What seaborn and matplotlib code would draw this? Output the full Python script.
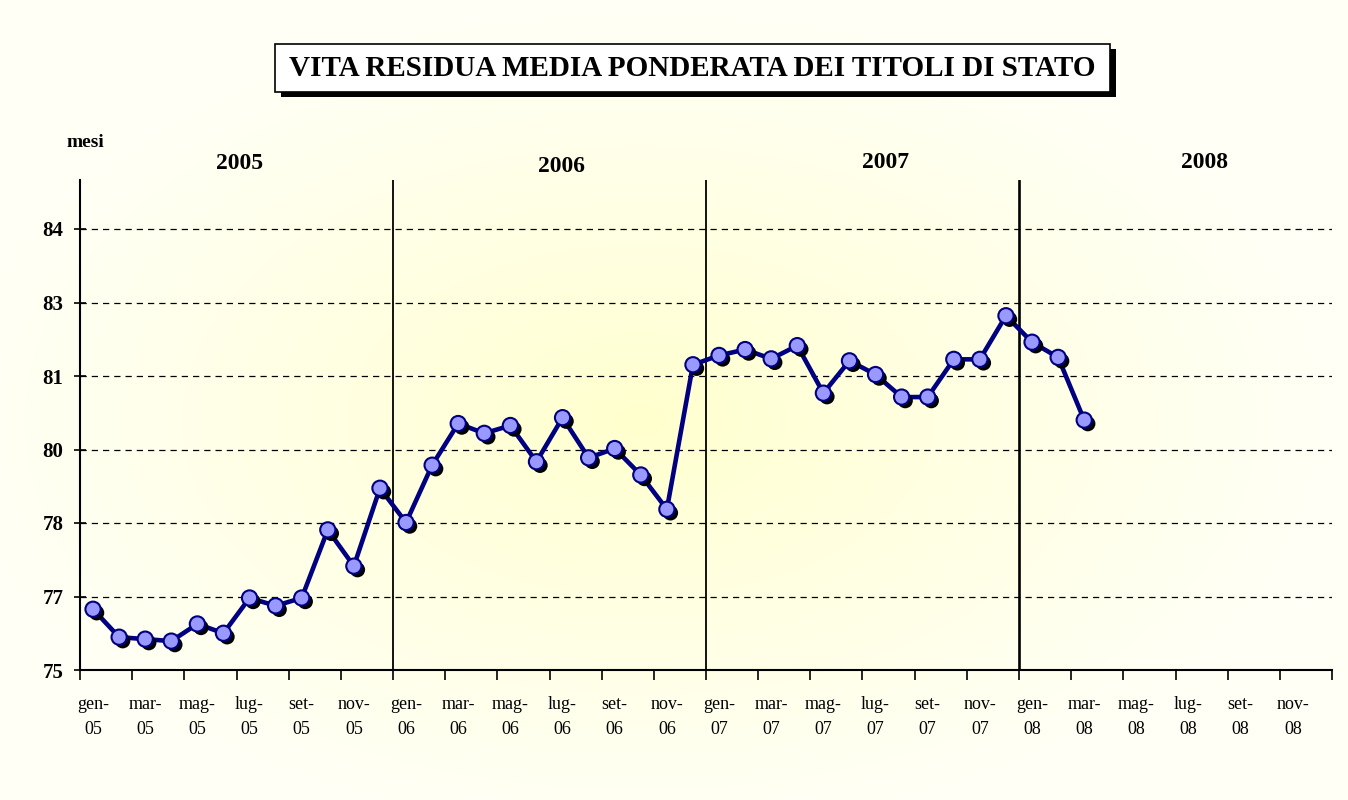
import numpy as np
import pandas as pd
import matplotlib
matplotlib.use('Agg')
import matplotlib.pyplot as plt
import matplotlib.patheffects as pe
from matplotlib.patches import Rectangle
import seaborn as sns

# Data (months gen-05 .. mar-08)
months = ['gen', 'feb', 'mar', 'apr', 'mag', 'giu', 'lug', 'ago', 'set', 'ott', 'nov', 'dic']
years = ['05', '06', '07', '08']
year_labels = ['2005', '2006', '2007', '2008']
vita = [76.24, 75.67, 75.63, 75.59, 75.94, 75.75, 76.47, 76.31, 76.47, 77.86, 77.12, 78.71,
        78.01, 79.18, 80.03, 79.83, 79.99, 79.25, 80.15, 79.33, 79.52, 78.98, 78.28, 81.23,
        81.42, 81.54, 81.35, 81.62, 80.65, 81.31, 81.03, 80.57, 80.57, 81.34, 81.34, 82.23,
        81.69, 81.38, 80.10]
ytick_values = [75, 76.5, 78, 79.5, 81, 82.5, 84]
ytick_labels = ['75', '77', '78', '80', '81', '83', '84']

categories = [f'{m}-\n{y}' for y in years for m in months]
df = pd.DataFrame({'pos': range(len(vita)), 'vita': vita})

sns.set_style('ticks')
plt.rcParams['font.family'] = ['Liberation Serif', 'DejaVu Serif']
plt.rcParams['text.color'] = 'black'
plt.rcParams['xtick.color'] = 'black'
plt.rcParams['ytick.color'] = 'black'
plt.rcParams['axes.labelcolor'] = 'black'

fig = plt.figure(figsize=(13.48, 8), dpi=100)

# soft radial yellow background
bg = fig.add_axes([0, 0, 1, 1], zorder=-5)
bg.axis('off')
yy, xx = np.mgrid[0:800, 0:1348]
r = np.clip(np.sqrt(((xx - 640) / 700) ** 2 + ((yy - 420) / 420) ** 2), 0, 1)
c_in = np.array([1.0, 1.0, 0.80])
c_out = np.array([1.0, 1.0, 0.965])
bg.imshow(c_in + (c_out - c_in) * r[..., None] ** 0.8, aspect='auto', extent=[0, 1, 0, 1])
bg.set_xlim(0, 1)
bg.set_ylim(0, 1)

ax = fig.add_axes([80 / 1348, 130 / 800, 1252 / 1348, 490 / 800])
ax.set_facecolor('none')

sns.lineplot(data=df, x='pos', y='vita', color='#000080', lw=3.3, ax=ax, zorder=3)
sns.scatterplot(data=df, x='pos', y='vita', s=120, color='#9999FF', edgecolor='#000080',
                linewidth=1.5, zorder=4, ax=ax,
                path_effects=[pe.SimplePatchShadow(offset=(2.6, -2.6), shadow_rgbFace='black', alpha=1.0),
                              pe.Normal()])

ax.set_xlim(-0.5, len(categories) - 0.5)
ax.set_ylim(75, 85)

# year separators and labels
for x, w in zip([11.5, 23.5, 35.5], [1.3, 1.3, 1.9]):
    ax.axvline(x, color='black', lw=w, zorder=2)
for x, y, lab in zip([5.6, 17.95, 30.4, 42.6], [85.33, 85.27, 85.35, 85.35], year_labels):
    ax.text(x, y, lab, ha='center', va='center', fontsize=17, fontweight='bold', clip_on=False)

ax.text(-0.3, 85.76, 'mesi', ha='center', va='center', fontsize=14, fontweight='bold', clip_on=False)

# axes styling
ax.set_yticks(ytick_values)
ax.set_yticklabels(ytick_labels, fontsize=15, fontweight='bold')
ax.yaxis.grid(True, linestyle=(0, (5, 4)), color='black', lw=0.9)
ax.tick_params(axis='y', direction='inout', length=8, width=1.2, pad=8)

ax.set_xticks(range(0, len(categories), 2))
ax.set_xticklabels(categories[::2], fontsize=13, linespacing=1.55)
ax.set_xticks(np.arange(-0.5, len(categories), 2), minor=True)
ax.tick_params(axis='x', which='major', length=0, pad=19)
ax.tick_params(axis='x', which='minor', direction='out', length=7, width=1.2)

for s in ['top', 'right']:
    ax.spines[s].set_visible(False)
for s in ['left', 'bottom']:
    ax.spines[s].set_color('black')
    ax.spines[s].set_linewidth(1.5)
ax.set_xlabel('')
ax.set_ylabel('')

# title box with shadow
fig.patches.append(Rectangle((281 / 1348, (800 - 97) / 800), 835 / 1348, 48 / 800,
                             transform=fig.transFigure, facecolor='black', edgecolor='none', zorder=1))
fig.patches.append(Rectangle((275 / 1348, (800 - 92) / 800), 835 / 1348, 48 / 800,
                             transform=fig.transFigure, facecolor='white', edgecolor='black', lw=1.2, zorder=2))
fig.text(692 / 1348, (800 - 68) / 800, 'VITA RESIDUA MEDIA PONDERATA DEI TITOLI DI STATO',
         ha='center', va='center', fontsize=21, fontweight='bold', zorder=3)

fig.savefig('out.png', dpi=100)
